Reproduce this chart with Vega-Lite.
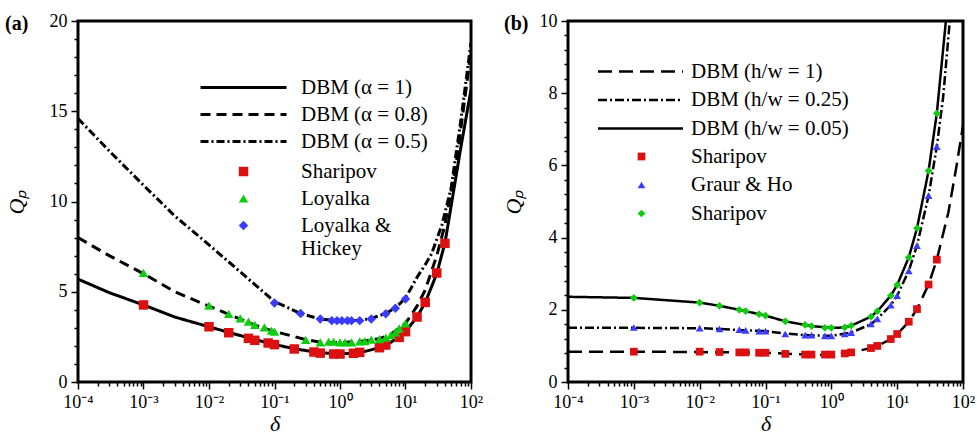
{
  "$schema": "https://vega.github.io/schema/vega-lite/v6.json",
  "background": "white",
  "padding": {"left": 3, "top": 10, "right": 4, "bottom": 2},
  "spacing": 15,
  "config": {
    "view": {"stroke": "black", "strokeWidth": 3, "fill": "white"},
    "font": "Liberation Serif",
    "axis": {"labelFont": "Liberation Serif", "labelFontSize": 18, "labelColor": "black", "titleFont": "Liberation Serif", "titleFontSize": 22, "titleFontWeight": "normal", "titleFontStyle": "italic", "titleColor": "black", "domain": false, "grid": false, "tickColor": "black", "tickWidth": 1.5, "labelOverlap": false, "labelFlush": false, "labelBound": false},
    "axisY": {"labelOverlap": false},
    "axisX": {"labelOverlap": false},
    "legend": {"labelFont": "Liberation Serif", "labelFontSize": 21, "labelColor": "black", "labelLimit": 0},
    "title": {"font": "Liberation Serif", "fontSize": 20, "fontWeight": "bold", "color": "black"}
  },
  "datasets": {
    "a_lines": [
      {"x": 0.0001, "y": 5.7, "c": "a1"}, {"x": 0.0003, "y": 4.95, "c": "a1"}, {"x": 0.001, "y": 4.27, "c": "a1"}, {"x": 0.003, "y": 3.6, "c": "a1"}, {"x": 0.01, "y": 3.06, "c": "a1"}, {"x": 0.02, "y": 2.75, "c": "a1"}, {"x": 0.05, "y": 2.35, "c": "a1"}, {"x": 0.1, "y": 2.08, "c": "a1"}, {"x": 0.2, "y": 1.84, "c": "a1"}, {"x": 0.5, "y": 1.62, "c": "a1"}, {"x": 1, "y": 1.56, "c": "a1"}, {"x": 2, "y": 1.62, "c": "a1"}, {"x": 4, "y": 1.9, "c": "a1"}, {"x": 6, "y": 2.2, "c": "a1"}, {"x": 10, "y": 2.8, "c": "a1"}, {"x": 15, "y": 3.6, "c": "a1"}, {"x": 20, "y": 4.4, "c": "a1"}, {"x": 30, "y": 6.0, "c": "a1"}, {"x": 40, "y": 7.7, "c": "a1"}, {"x": 50, "y": 9.8, "c": "a1"}, {"x": 70, "y": 13.0, "c": "a1"}, {"x": 100, "y": 16.2, "c": "a1"},
      {"x": 0.0001, "y": 8.0, "c": "a08"}, {"x": 0.0003, "y": 7.0, "c": "a08"}, {"x": 0.001, "y": 6.0, "c": "a08"}, {"x": 0.003, "y": 5.0, "c": "a08"}, {"x": 0.01, "y": 4.2, "c": "a08"}, {"x": 0.02, "y": 3.75, "c": "a08"}, {"x": 0.05, "y": 3.15, "c": "a08"}, {"x": 0.1, "y": 2.8, "c": "a08"}, {"x": 0.3, "y": 2.35, "c": "a08"}, {"x": 0.5, "y": 2.2, "c": "a08"}, {"x": 1, "y": 2.18, "c": "a08"}, {"x": 2, "y": 2.25, "c": "a08"}, {"x": 4, "y": 2.4, "c": "a08"}, {"x": 6, "y": 2.65, "c": "a08"}, {"x": 10, "y": 3.25, "c": "a08"}, {"x": 15, "y": 4.2, "c": "a08"}, {"x": 20, "y": 5.1, "c": "a08"}, {"x": 30, "y": 7.0, "c": "a08"}, {"x": 40, "y": 8.7, "c": "a08"}, {"x": 60, "y": 12.2, "c": "a08"}, {"x": 100, "y": 18.3, "c": "a08"},
      {"x": 0.0001, "y": 14.6, "c": "a05"}, {"x": 0.0003, "y": 12.8, "c": "a05"}, {"x": 0.001, "y": 10.9, "c": "a05"}, {"x": 0.003, "y": 9.2, "c": "a05"}, {"x": 0.01, "y": 7.6, "c": "a05"}, {"x": 0.03, "y": 6.1, "c": "a05"}, {"x": 0.1, "y": 4.45, "c": "a05"}, {"x": 0.25, "y": 3.8, "c": "a05"}, {"x": 0.5, "y": 3.48, "c": "a05"}, {"x": 1, "y": 3.38, "c": "a05"}, {"x": 2, "y": 3.42, "c": "a05"}, {"x": 3, "y": 3.52, "c": "a05"}, {"x": 5, "y": 3.8, "c": "a05"}, {"x": 7, "y": 4.1, "c": "a05"}, {"x": 10, "y": 4.65, "c": "a05"}, {"x": 15, "y": 5.8, "c": "a05"}, {"x": 20, "y": 6.5, "c": "a05"}, {"x": 25, "y": 7.1, "c": "a05"}, {"x": 36, "y": 8.7, "c": "a05"}, {"x": 50, "y": 10.8, "c": "a05"}, {"x": 70, "y": 14.5, "c": "a05"}, {"x": 100, "y": 18.8, "c": "a05"}
    ],
    "a_points": [
      {"x": 0.001, "y": 4.27, "s": "S"}, {"x": 0.01, "y": 3.06, "s": "S"}, {"x": 0.02, "y": 2.73, "s": "S"}, {"x": 0.04, "y": 2.42, "s": "S"}, {"x": 0.05, "y": 2.31, "s": "S"}, {"x": 0.08, "y": 2.16, "s": "S"}, {"x": 0.1, "y": 2.07, "s": "S"}, {"x": 0.2, "y": 1.83, "s": "S"}, {"x": 0.4, "y": 1.66, "s": "S"}, {"x": 0.5, "y": 1.6, "s": "S"}, {"x": 0.8, "y": 1.55, "s": "S"}, {"x": 1, "y": 1.55, "s": "S"}, {"x": 1.6, "y": 1.59, "s": "S"}, {"x": 2, "y": 1.64, "s": "S"}, {"x": 4, "y": 1.9, "s": "S"}, {"x": 5, "y": 2.05, "s": "S"}, {"x": 8, "y": 2.47, "s": "S"}, {"x": 10, "y": 2.79, "s": "S"}, {"x": 15, "y": 3.6, "s": "S"}, {"x": 20, "y": 4.41, "s": "S"}, {"x": 30, "y": 6.04, "s": "S"}, {"x": 40, "y": 7.68, "s": "S"},
      {"x": 0.001, "y": 6.04, "s": "L"}, {"x": 0.01, "y": 4.23, "s": "L"}, {"x": 0.02, "y": 3.77, "s": "L"}, {"x": 0.03, "y": 3.53, "s": "L"}, {"x": 0.04, "y": 3.34, "s": "L"}, {"x": 0.05, "y": 3.16, "s": "L"}, {"x": 0.07, "y": 3.03, "s": "L"}, {"x": 0.09, "y": 2.84, "s": "L"}, {"x": 0.1, "y": 2.79, "s": "L"}, {"x": 0.3, "y": 2.33, "s": "L"}, {"x": 0.5, "y": 2.2, "s": "L"}, {"x": 0.67, "y": 2.23, "s": "L"}, {"x": 0.8, "y": 2.23, "s": "L"}, {"x": 1, "y": 2.2, "s": "L"}, {"x": 1.2, "y": 2.2, "s": "L"}, {"x": 1.5, "y": 2.2, "s": "L"}, {"x": 2, "y": 2.25, "s": "L"}, {"x": 2.4, "y": 2.27, "s": "L"}, {"x": 3, "y": 2.35, "s": "L"}, {"x": 4, "y": 2.38, "s": "L"}, {"x": 5, "y": 2.46, "s": "L"}, {"x": 6, "y": 2.6, "s": "L"}, {"x": 7, "y": 2.75, "s": "L"}, {"x": 8, "y": 2.97, "s": "L"}, {"x": 10, "y": 3.25, "s": "L"},
      {"x": 0.1, "y": 4.38, "s": "LH"}, {"x": 0.25, "y": 3.8, "s": "LH"}, {"x": 0.5, "y": 3.49, "s": "LH"}, {"x": 0.75, "y": 3.4, "s": "LH"}, {"x": 0.9, "y": 3.4, "s": "LH"}, {"x": 1.07, "y": 3.4, "s": "LH"}, {"x": 1.3, "y": 3.4, "s": "LH"}, {"x": 1.5, "y": 3.4, "s": "LH"}, {"x": 2, "y": 3.4, "s": "LH"}, {"x": 3, "y": 3.49, "s": "LH"}, {"x": 5, "y": 3.78, "s": "LH"}, {"x": 7, "y": 4.08, "s": "LH"}, {"x": 10, "y": 4.6, "s": "LH"}
    ],
    "b_lines": [
      {"x": 0.0001, "y": 0.84, "c": "h1"}, {"x": 0.001, "y": 0.84, "c": "h1"}, {"x": 0.01, "y": 0.83, "c": "h1"}, {"x": 0.1, "y": 0.81, "c": "h1"}, {"x": 0.3, "y": 0.77, "c": "h1"}, {"x": 0.7, "y": 0.75, "c": "h1"}, {"x": 1, "y": 0.76, "c": "h1"}, {"x": 2, "y": 0.82, "c": "h1"}, {"x": 4, "y": 0.94, "c": "h1"}, {"x": 5, "y": 1.0, "c": "h1"}, {"x": 8, "y": 1.19, "c": "h1"}, {"x": 10, "y": 1.32, "c": "h1"}, {"x": 15, "y": 1.67, "c": "h1"}, {"x": 20, "y": 2.02, "c": "h1"}, {"x": 30, "y": 2.7, "c": "h1"}, {"x": 40, "y": 3.39, "c": "h1"}, {"x": 60, "y": 4.7, "c": "h1"}, {"x": 80, "y": 6.0, "c": "h1"}, {"x": 100, "y": 7.1, "c": "h1"},
      {"x": 0.0001, "y": 1.5, "c": "h025"}, {"x": 0.001, "y": 1.5, "c": "h025"}, {"x": 0.01, "y": 1.49, "c": "h025"}, {"x": 0.02, "y": 1.47, "c": "h025"}, {"x": 0.05, "y": 1.43, "c": "h025"}, {"x": 0.1, "y": 1.41, "c": "h025"}, {"x": 0.2, "y": 1.34, "c": "h025"}, {"x": 0.5, "y": 1.29, "c": "h025"}, {"x": 1, "y": 1.28, "c": "h025"}, {"x": 2, "y": 1.37, "c": "h025"}, {"x": 4, "y": 1.6, "c": "h025"}, {"x": 5, "y": 1.75, "c": "h025"}, {"x": 8, "y": 2.13, "c": "h025"}, {"x": 10, "y": 2.39, "c": "h025"}, {"x": 15, "y": 3.08, "c": "h025"}, {"x": 20, "y": 3.78, "c": "h025"}, {"x": 30, "y": 5.16, "c": "h025"}, {"x": 40, "y": 6.52, "c": "h025"}, {"x": 50, "y": 7.9, "c": "h025"}, {"x": 63, "y": 10, "c": "h025"},
      {"x": 0.0001, "y": 2.36, "c": "h005"}, {"x": 0.001, "y": 2.33, "c": "h005"}, {"x": 0.01, "y": 2.2, "c": "h005"}, {"x": 0.02, "y": 2.11, "c": "h005"}, {"x": 0.04, "y": 2.0, "c": "h005"}, {"x": 0.1, "y": 1.84, "c": "h005"}, {"x": 0.2, "y": 1.68, "c": "h005"}, {"x": 0.5, "y": 1.55, "c": "h005"}, {"x": 1, "y": 1.5, "c": "h005"}, {"x": 1.6, "y": 1.51, "c": "h005"}, {"x": 2, "y": 1.56, "c": "h005"}, {"x": 4, "y": 1.81, "c": "h005"}, {"x": 5, "y": 1.96, "c": "h005"}, {"x": 8, "y": 2.39, "c": "h005"}, {"x": 10, "y": 2.69, "c": "h005"}, {"x": 15, "y": 3.45, "c": "h005"}, {"x": 20, "y": 4.26, "c": "h005"}, {"x": 30, "y": 5.85, "c": "h005"}, {"x": 40, "y": 7.44, "c": "h005"}, {"x": 55, "y": 10, "c": "h005"}
    ],
    "b_points": [
      {"x": 0.001, "y": 0.84, "s": "S1"}, {"x": 0.01, "y": 0.84, "s": "S1"}, {"x": 0.02, "y": 0.83, "s": "S1"}, {"x": 0.04, "y": 0.82, "s": "S1"}, {"x": 0.05, "y": 0.82, "s": "S1"}, {"x": 0.08, "y": 0.81, "s": "S1"}, {"x": 0.1, "y": 0.81, "s": "S1"}, {"x": 0.2, "y": 0.78, "s": "S1"}, {"x": 0.4, "y": 0.76, "s": "S1"}, {"x": 0.5, "y": 0.76, "s": "S1"}, {"x": 0.8, "y": 0.76, "s": "S1"}, {"x": 1, "y": 0.76, "s": "S1"}, {"x": 1.6, "y": 0.79, "s": "S1"}, {"x": 2, "y": 0.82, "s": "S1"}, {"x": 4, "y": 0.94, "s": "S1"}, {"x": 5, "y": 1.0, "s": "S1"}, {"x": 8, "y": 1.19, "s": "S1"}, {"x": 10, "y": 1.33, "s": "S1"}, {"x": 15, "y": 1.67, "s": "S1"}, {"x": 20, "y": 2.02, "s": "S1"}, {"x": 30, "y": 2.7, "s": "S1"}, {"x": 40, "y": 3.39, "s": "S1"},
      {"x": 0.001, "y": 1.51, "s": "GH"}, {"x": 0.01, "y": 1.49, "s": "GH"}, {"x": 0.02, "y": 1.47, "s": "GH"}, {"x": 0.04, "y": 1.45, "s": "GH"}, {"x": 0.05, "y": 1.43, "s": "GH"}, {"x": 0.08, "y": 1.41, "s": "GH"}, {"x": 0.1, "y": 1.41, "s": "GH"}, {"x": 0.2, "y": 1.33, "s": "GH"}, {"x": 0.4, "y": 1.3, "s": "GH"}, {"x": 0.5, "y": 1.3, "s": "GH"}, {"x": 0.8, "y": 1.28, "s": "GH"}, {"x": 1, "y": 1.28, "s": "GH"}, {"x": 1.6, "y": 1.33, "s": "GH"}, {"x": 2, "y": 1.37, "s": "GH"}, {"x": 4, "y": 1.61, "s": "GH"}, {"x": 5, "y": 1.75, "s": "GH"}, {"x": 8, "y": 2.13, "s": "GH"}, {"x": 10, "y": 2.39, "s": "GH"}, {"x": 15, "y": 3.08, "s": "GH"}, {"x": 20, "y": 3.78, "s": "GH"}, {"x": 30, "y": 5.16, "s": "GH"}, {"x": 40, "y": 6.52, "s": "GH"},
      {"x": 0.001, "y": 2.33, "s": "S2"}, {"x": 0.01, "y": 2.2, "s": "S2"}, {"x": 0.02, "y": 2.11, "s": "S2"}, {"x": 0.04, "y": 2.0, "s": "S2"}, {"x": 0.05, "y": 1.96, "s": "S2"}, {"x": 0.08, "y": 1.88, "s": "S2"}, {"x": 0.1, "y": 1.84, "s": "S2"}, {"x": 0.2, "y": 1.68, "s": "S2"}, {"x": 0.4, "y": 1.58, "s": "S2"}, {"x": 0.5, "y": 1.55, "s": "S2"}, {"x": 0.8, "y": 1.5, "s": "S2"}, {"x": 1, "y": 1.5, "s": "S2"}, {"x": 1.6, "y": 1.51, "s": "S2"}, {"x": 2, "y": 1.56, "s": "S2"}, {"x": 4, "y": 1.81, "s": "S2"}, {"x": 5, "y": 1.96, "s": "S2"}, {"x": 8, "y": 2.39, "s": "S2"}, {"x": 10, "y": 2.69, "s": "S2"}, {"x": 15, "y": 3.45, "s": "S2"}, {"x": 20, "y": 4.26, "s": "S2"}, {"x": 30, "y": 5.85, "s": "S2"}, {"x": 40, "y": 7.44, "s": "S2"}
    ]
  },
  "resolve": {"scale": {"x": "independent", "y": "independent", "color": "independent", "shape": "independent", "strokeDash": "independent"}},
  "hconcat": [
    {
      "width": 393, "height": 361,
      "title": {"text": "(a)", "anchor": "start", "frame": "bounds", "orient": "top", "baseline": "alphabetic", "offset": 0, "dy": 38},
      "encoding": {
        "x": {"field": "x", "type": "quantitative", "scale": {"type": "log", "domain": [0.0001, 100], "nice": false},
          "axis": {"title": "δ", "labelOverlap": false, "values": [0.0001,0.0002,0.0003,0.0004,0.0005,0.0006,0.0007,0.0008,0.0009,0.001,0.002,0.003,0.004,0.005,0.006,0.007,0.008,0.009,0.01,0.02,0.03,0.04,0.05,0.06,0.07,0.08,0.09,0.1,0.2,0.3,0.4,0.5,0.6,0.7,0.8,0.9,1,2,3,4,5,6,7,8,9,10,20,30,40,50,60,70,80,90,100],
            "labelExpr": "datum.value===0.0001?'10⁻⁴':datum.value===0.001?'10⁻³':datum.value===0.01?'10⁻²':datum.value===0.1?'10⁻¹':datum.value===1?'10⁰':datum.value===10?'10¹':datum.value===100?'10²':''",
            "tickSize": {"condition": {"test": "indexof([0.0001,0.001,0.01,0.1,1,10,100], datum.value) >= 0", "value": 7}, "value": 4},
            "labelPadding": 4, "titlePadding": 2}},
        "y": {"field": "y", "type": "quantitative", "scale": {"domain": [0, 20], "nice": false},
          "axis": {"title": "Qₚ", "labelOverlap": false, "values": [0,1,2,3,4,5,6,7,8,9,10,11,12,13,14,15,16,17,18,19,20],
            "labelExpr": "datum.value % 5 == 0 ? '' + datum.value : ''",
            "tickSize": {"condition": {"test": "datum.value % 5 == 0", "value": 7}, "value": 4},
            "labelPadding": 4, "titlePadding": 21}}
      },
      "layer": [
        {
          "data": {"name": "a_lines"},
          "mark": {"type": "line", "color": "black", "strokeWidth": 3, "clip": true},
          "encoding": {
            "strokeDash": {"field": "c", "type": "nominal",
              "scale": {"domain": ["a1", "a08", "a05"], "range": [[1, 0], [10, 6], [8, 3, 2, 3]]},
              "legend": {"title": null, "orient": "none", "legendX": 155, "legendY": 56, "symbolType": "M-8.6,0L8.6,0", "symbolSize": 100, "symbolStrokeWidth": 3, "symbolStrokeColor": "black", "symbolFillColor": "transparent", "labelOffset": 47, "rowPadding": 5,
                "labelExpr": "datum.value=='a1'?'DBM (α = 1)':datum.value=='a08'?'DBM (α = 0.8)':'DBM (α = 0.5)'"}}
          }
        },
        {
          "data": {"name": "a_points"},
          "mark": {"type": "point", "filled": true, "opacity": 1, "size": 90},
          "encoding": {
            "color": {"field": "s", "type": "nominal", "scale": {"domain": ["S", "L", "LH"], "range": ["#dc1010", "#10cc10", "#3b3bff"]},
              "legend": {"title": null, "orient": "none", "legendX": 155, "legendY": 140, "symbolSize": 90, "labelOffset": 47, "rowPadding": 5,
                "labelExpr": "datum.value=='S'?'Sharipov':datum.value=='L'?'Loyalka':['Loyalka &','Hickey']"}},
            "shape": {"field": "s", "type": "nominal", "scale": {"domain": ["S", "L", "LH"], "range": ["square", "triangle-up", "diamond"]}}
          }
        }
      ]
    },
    {
      "width": 395, "height": 361,
      "title": {"text": "(b)", "anchor": "start", "frame": "bounds", "orient": "top", "baseline": "alphabetic", "offset": 0, "dy": 38, "dx": 2},
      "encoding": {
        "x": {"field": "x", "type": "quantitative", "scale": {"type": "log", "domain": [0.0001, 100], "nice": false},
          "axis": {"title": "δ", "labelOverlap": false, "values": [0.0001,0.0002,0.0003,0.0004,0.0005,0.0006,0.0007,0.0008,0.0009,0.001,0.002,0.003,0.004,0.005,0.006,0.007,0.008,0.009,0.01,0.02,0.03,0.04,0.05,0.06,0.07,0.08,0.09,0.1,0.2,0.3,0.4,0.5,0.6,0.7,0.8,0.9,1,2,3,4,5,6,7,8,9,10,20,30,40,50,60,70,80,90,100],
            "labelExpr": "datum.value===0.0001?'10⁻⁴':datum.value===0.001?'10⁻³':datum.value===0.01?'10⁻²':datum.value===0.1?'10⁻¹':datum.value===1?'10⁰':datum.value===10?'10¹':datum.value===100?'10²':''",
            "tickSize": {"condition": {"test": "indexof([0.0001,0.001,0.01,0.1,1,10,100], datum.value) >= 0", "value": 7}, "value": 4},
            "labelPadding": 4, "titlePadding": 2}},
        "y": {"field": "y", "type": "quantitative", "scale": {"domain": [0, 10], "nice": false},
          "axis": {"title": "Qₚ", "labelOverlap": false, "values": [0,0.4,0.8,1.2,1.6,2,2.4,2.8,3.2,3.6,4,4.4,4.8,5.2,5.6,6,6.4,6.8,7.2,7.6,8,8.4,8.8,9.2,9.6,10],
            "labelExpr": "datum.value % 2 == 0 ? '' + datum.value : ''",
            "tickSize": {"condition": {"test": "datum.value % 2 == 0", "value": 7}, "value": 4},
            "labelPadding": 4, "titlePadding": 14}}
      },
      "layer": [
        {
          "data": {"name": "b_lines"},
          "mark": {"type": "line", "color": "black", "strokeWidth": 2.5, "clip": true},
          "encoding": {
            "strokeDash": {"field": "c", "type": "nominal",
              "scale": {"domain": ["h1", "h025", "h005"], "range": [[14, 7], [9, 3, 2, 3], [1, 0]]},
              "legend": {"title": null, "orient": "none", "legendX": 62, "legendY": 40, "symbolType": "M-8.5,0L8.5,0", "symbolSize": 100, "symbolStrokeWidth": 2.5, "symbolStrokeColor": "black", "symbolFillColor": "transparent", "labelOffset": 40, "rowPadding": 6.5,
                "labelExpr": "datum.value=='h1'?'DBM (h/w = 1)':datum.value=='h025'?'DBM (h/w = 0.25)':'DBM (h/w = 0.05)'"}}
          }
        },
        {
          "data": {"name": "b_points"},
          "mark": {"type": "point", "filled": true, "opacity": 1, "size": 60},
          "encoding": {
            "color": {"field": "s", "type": "nominal", "scale": {"domain": ["S1", "GH", "S2"], "range": ["#dc1010", "#3b3bff", "#10cc10"]},
              "legend": {"title": null, "orient": "none", "legendX": 63, "legendY": 125, "symbolSize": 60, "labelOffset": 39, "rowPadding": 6.5,
                "labelExpr": "datum.value=='GH'?'Graur & Ho':'Sharipov'"}},
            "shape": {"field": "s", "type": "nominal", "scale": {"domain": ["S1", "GH", "S2"], "range": ["square", "triangle-up", "diamond"]}}
          }
        }
      ]
    }
  ]
}
